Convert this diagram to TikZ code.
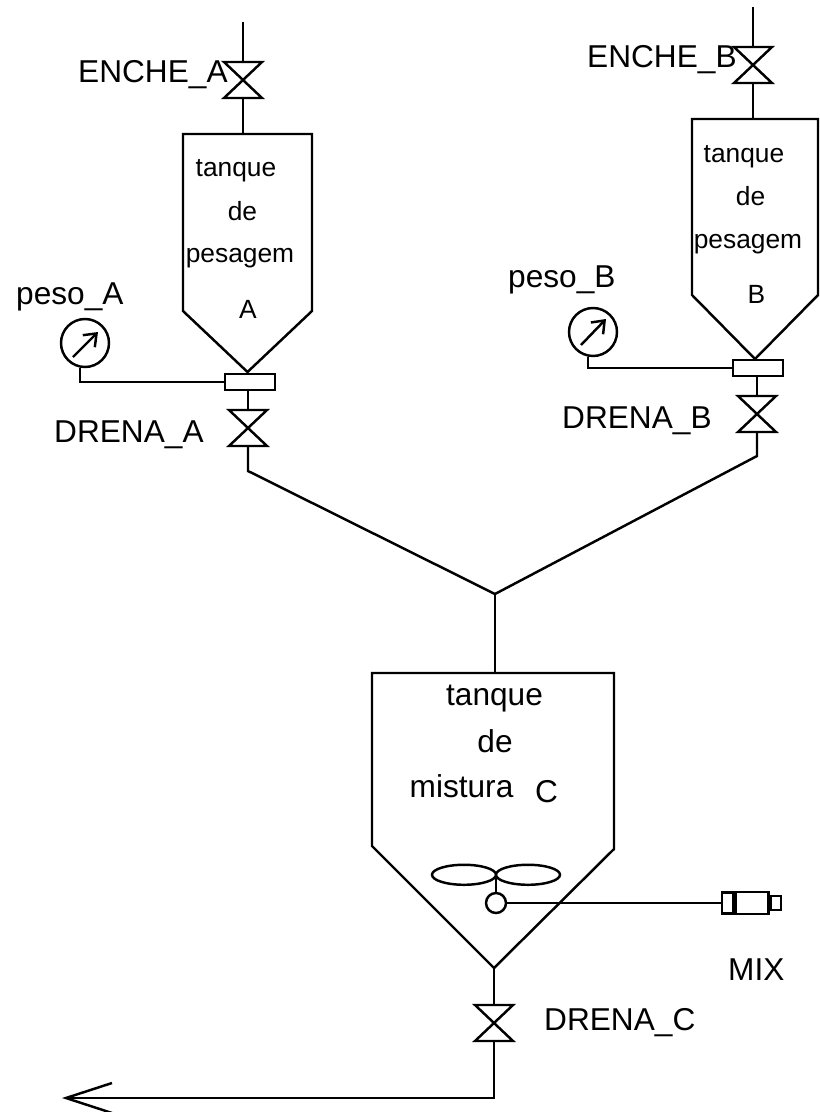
\documentclass[tikz,border=0pt]{standalone}
\usepackage{fontspec}
\setmainfont{Liberation Sans}
\usetikzlibrary{arrows.meta, positioning, calc}

\begin{document}
\begin{tikzpicture}[x=0.02cm,y=-0.02cm,line width=1.4pt,
	rotulo/.style={inner sep=0pt,anchor=base west,font=\fontsize{18}{20}\selectfont},
	textotanque/.style={inner sep=0pt,anchor=base,font=\fontsize{15}{17}\selectfont},
	textomistura/.style={inner sep=0pt,anchor=base,font=\fontsize{18}{20}\selectfont},
	bloco/.style={draw,rectangle,minimum width=1cm,minimum height=0.32cm,inner sep=0pt},
	manometro/.style={draw,circle,minimum size=0.96cm,inner sep=0pt},
	ponteiro/.style={-{Straight Barb[length=0.22cm,width=0.34cm]}},
	caixa/.style={draw,rectangle,inner sep=0pt},
	valvula/.pic={
		\draw (-19,-18) -- (19,-18) -- (-19,18) -- (19,18) -- cycle;
		\coordinate (-top) at (0,-18);
		\coordinate (-bot) at (0,18);
	}]
	\useasboundingbox (0,0) rectangle (819,1112);

	% tanque de pesagem A
	\draw (183,134) coordinate (topoA) -- (312,134) -- (312,311) -- (247.5,372) -- (183,311) -- cycle;
	\node[textotanque] (tA1) at (236,176) {tanque};
	\node[textotanque] (tA2) at (242.5,220) {de};
	\node[textotanque] (tA3) at (240,262) {pesagem};
	\node[textotanque] (tA4) at (248,318) {A};
	\coordinate (entA) at (243,22);
	\pic (vEA) at (243,80) {valvula};
	\draw (entA) -- (vEA-top);
	\draw (vEA-bot) -- (vEA-bot |- topoA);
	\node[rotulo] (lEA) at (77,82) {ENCHE\_A};
	\node[bloco] (sA) at (250,382) {};
	\node[manometro] (gA) at (85,343) {};
	\draw[ponteiro] ($(gA)+(-12,14)$) -- ($(gA)+(13,-11)$);
	\draw (gA.258) |- (sA.west);
	\node[rotulo] (lgA) at (15,304) {peso\_A};
	\pic (vDA) at (248,428) {valvula};
	\draw (sA.south -| vDA-top) -- (vDA-top);
	\node[rotulo] (lDA) at (53,442) {DRENA\_A};

	% tanque de pesagem B
	\draw (692,119) coordinate (topoB) -- (818,119) -- (818,295) -- (755,359) -- (692,295) -- cycle;
	\node[textotanque] (tB1) at (744,162) {tanque};
	\node[textotanque] (tB2) at (750.5,205) {de};
	\node[textotanque] (tB3) at (748,248) {pesagem};
	\node[textotanque] (tB4) at (756.5,303) {B};
	\coordinate (entB) at (753,7);
	\pic (vEB) at (753,65) {valvula};
	\draw (entB) -- (vEB-top);
	\draw (vEB-bot) -- (vEB-bot |- topoB);
	\node[rotulo] (lEB) at (586,67) {ENCHE\_B};
	\node[bloco] (sB) at (758,368) {};
	\node[manometro] (gB) at (593,332) {};
	\draw[ponteiro] ($(gB)+(-12,13)$) -- ($(gB)+(13,-13)$);
	\draw (gB.258) |- (sB.west);
	\node[rotulo] (lgB) at (507,287) {peso\_B};
	\pic (vDB) at (757,414) {valvula};
	\draw (sB.south -| vDB-top) -- (vDB-top);
	\node[rotulo] (lDB) at (561,428) {DRENA\_B};

	% tubulacao ate o tanque de mistura
	\coordinate (cotoA) at (248,471);
	\coordinate (cotoB) at (757,456);
	\coordinate (juncao) at (495,594);
	\draw (vDA-bot) -- (cotoA) -- (juncao) -- (cotoB) -- (vDB-bot);

	% tanque de mistura C
	\draw (372,673) coordinate (topoC) -- (614,673) -- (614,849) -- (494,968) coordinate (fundoC) -- (372,846) -- cycle;
	\draw (juncao) -- (juncao |- topoC);
	\node[textomistura] (tC1) at (494.5,705) {tanque};
	\node[textomistura] (tC2) at (495,752) {de};
	\node[textomistura] (tC3) at (461.5,797) {mistura};
	\node[textomistura] (tC4) at (546.5,802) {C};
	\node[draw,circle,minimum size=0.4cm,inner sep=0pt] (cubo) at (496,903) {};
	\draw (cubo.north) -- ++(0,-17) coordinate (eixo);
	\draw ($(eixo)+(-32,0)$) ellipse [x radius=32,y radius=10]
		($(eixo)+(32,0)$) ellipse [x radius=32,y radius=10];
	\node[caixa,minimum width=0.22cm,minimum height=0.42cm,anchor=west] (colar) at (721,903) {};
	\node[caixa,minimum width=0.66cm,minimum height=0.44cm,right=0pt of colar] (motor) {};
	\node[caixa,minimum width=0.2cm,minimum height=0.28cm,right=0pt of motor] (tampa) {};
	\draw (cubo.east) -- (colar.west);
	\node[rotulo] (lMIX) at (727,980) {MIX};
	\pic (vDC) at (494,1023) {valvula};
	\draw (fundoC) -- (vDC-top);
	\node[rotulo] (lDC) at (543,1030) {DRENA\_C};
	\coordinate (saida) at (62,1098);
	\draw[-{Straight Barb[length=0.92cm,width=0.6cm]}] (vDC-bot) |- (saida);
\end{tikzpicture}
\end{document}
